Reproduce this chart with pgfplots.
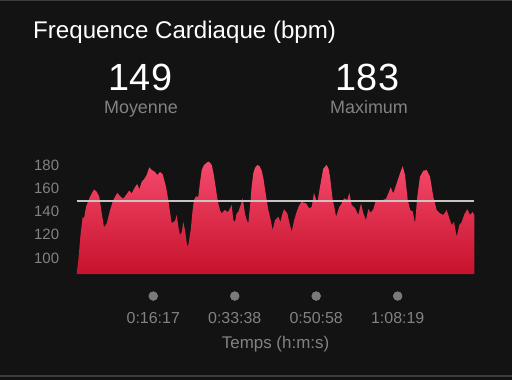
\documentclass[border=0pt]{standalone}
\usepackage{pgfplots}
\pgfplotsset{compat=1.18}
\usepackage{fontspec}
\setmainfont{Liberation Sans}
\definecolor{bg}{RGB}{19,19,19}
\definecolor{edge}{RGB}{60,60,60}
\definecolor{labgray}{RGB}{130,130,130}
\definecolor{dotgray}{RGB}{122,122,122}
\definecolor{avggray}{RGB}{200,196,196}
\definecolor{hrtop}{RGB}{246,74,108}
\definecolor{hrbot}{RGB}{198,18,44}
\pgfplotstableread{
t bpm
0 86.2
0 88
0.32 98
0.83 121.5
1.26 135.5
1.53 134
1.96 144
2.81 152.7
3.66 159
4.24 157
4.79 152.7
5.30 138.7
5.79 126.4
6.37 129.8
7.07 141
7.77 150
8.62 156
9.35 152.7
9.90 151
10.62 155
11.18 158
11.69 155.6
12.39 161
12.88 163.7
13.31 159
13.82 165.7
14.31 167.7
14.88 171.4
15.44 178
15.95 175.7
16.65 174
17.14 171.4
17.71 174
18.29 172
18.99 161.3
19.48 150
19.84 139.8
20.20 130
20.91 132
21.27 137
21.66 126
21.97 119.8
22.33 122
22.67 131
23.04 124
23.53 109.7
23.78 112
24.25 124
24.63 140
24.95 150
25.38 153
25.87 152.7
26.23 165
26.59 175.7
27.08 180
27.51 181.5
28.00 183
28.36 182
28.72 180
29.06 174
29.42 165
29.78 155
30.13 147
30.49 141
30.85 138.4
31.19 140
31.55 141.3
31.98 139.8
32.26 140
32.62 142.7
32.98 145.6
33.32 132.7
33.68 131
34.00 138
34.38 139.8
34.90 145.6
35.32 151.3
35.81 138
36.24 132
36.52 129.8
37.02 150
37.19 160
37.58 173
37.94 177.5
38.43 180
38.90 179
39.37 175
39.75 168
40.07 159
40.43 150
40.77 141.3
41.13 135.5
41.49 128.4
41.71 124
42.20 132.7
42.90 135.5
43.37 131
43.69 137
44.11 141.9
44.82 138.4
45.28 130
45.75 122.6
46.24 132
46.81 139.8
47.30 145
47.88 148.4
48.31 147.5
48.80 147
49.50 142.7
50.01 144
50.50 156
51.20 147
51.78 161.3
52.48 177
53.20 180
53.58 177
53.91 170
54.48 150
54.87 143
55.19 135.5
55.89 144
56.40 147
56.90 151.3
57.60 150
58.02 156
58.53 145.6
59.24 143
59.93 137
60.51 147
61.00 138.4
61.57 132.7
62.06 142
62.57 139
63.13 142
63.70 150
64.55 148.5
65.25 150
65.83 151
66.32 155.6
66.83 160.8
67.38 155.6
68.11 164.3
68.81 172.9
69.38 179
69.88 171.4
70.45 150
70.98 141.3
71.52 140
72.01 129.8
72.49 152.7
73.07 170
73.77 175
74.49 175.7
75.20 170
75.90 152.7
76.62 141.3
77.33 138.4
78.03 137
78.75 141.3
79.30 134.3
79.82 128.4
80.31 131
80.88 118.3
81.44 128.4
81.95 131
82.44 137
83.14 142
83.71 137
84.29 139.8
84.63 137
84.63 86.2
}\hrdata
\begin{document}
\begin{tikzpicture}
\begin{axis}[
  set layers,
  scale only axis, width=397.5bp, height=120.7bp,
  xmin=0, xmax=84.63, ymin=86.2, ymax=190,
  clip=false,
  axis line style={draw=none},
  tick style={draw=none},
  major tick length=0pt,
  /pgf/number format/assume math mode=true,
  ytick={100,120,140,160,180},
  yticklabel style={font=\fontsize{15}{17}\selectfont, text=labgray, inner sep=0pt, anchor=east, xshift=-17.5bp},
  xtick={16.283,33.633,50.967,68.317},
  xticklabels={0:16:17,0:33:38,0:50:58,1:08:19},
  xticklabel style={font=\fontsize{16}{18}\selectfont, text=labgray, inner sep=0pt, anchor=base, yshift=-49bp},
  xlabel={Temps (h:m:s)},
  xlabel style={at={(axis description cs:0.5,0)}, anchor=base, inner sep=0pt, yshift=-74bp, font=\fontsize{17}{20}\selectfont, text=labgray},
]
% background panel (positions in axis units), on the background layer
\begin{pgfonlayer}{axis background}
\fill[bg] (axis cs:-16.351,-4.98) rectangle (axis cs:92.655,321.90);
\fill[edge] (axis cs:-16.351,321.04) rectangle (axis cs:92.655,321.90);
\fill[edge] (axis cs:-16.351,-1.0) rectangle (axis cs:92.655,-2.1);
\end{pgfonlayer}
\node[anchor=base west, inner sep=0, text=white, font=\fontsize{24.2}{28}\selectfont] at (axis cs:-9.325,289.21) {Frequence Cardiaque (bpm)};
\node[anchor=base, inner sep=0, text=white, font=\fontsize{38}{42}\selectfont] at (axis cs:13.562,244.48) {149};
\node[anchor=base, inner sep=0, text=white, font=\fontsize{38}{42}\selectfont] at (axis cs:61.891,244.48) {183};
\node[anchor=base, inner sep=0, text=labgray, font=\fontsize{18}{20}\selectfont] at (axis cs:13.668,224.26) {Moyenne};
\node[anchor=base, inner sep=0, text=labgray, font=\fontsize{18}{20}\selectfont] at (axis cs:62.210,224.26) {Maximum};
\addplot[draw=none, top color=hrtop, bottom color=hrbot] table[x=t,y=bpm] {\hrdata} -- cycle;
\addplot[avggray, line width=1.3bp] coordinates {(0,149) (84.63,149)};
\addplot[only marks, mark=*, mark size=5.2bp, mark options={draw=none, fill=dotgray}] coordinates {(16.283,67.3) (33.633,67.3) (50.967,67.3) (68.317,67.3)};
\end{axis}
\end{tikzpicture}
\end{document}
